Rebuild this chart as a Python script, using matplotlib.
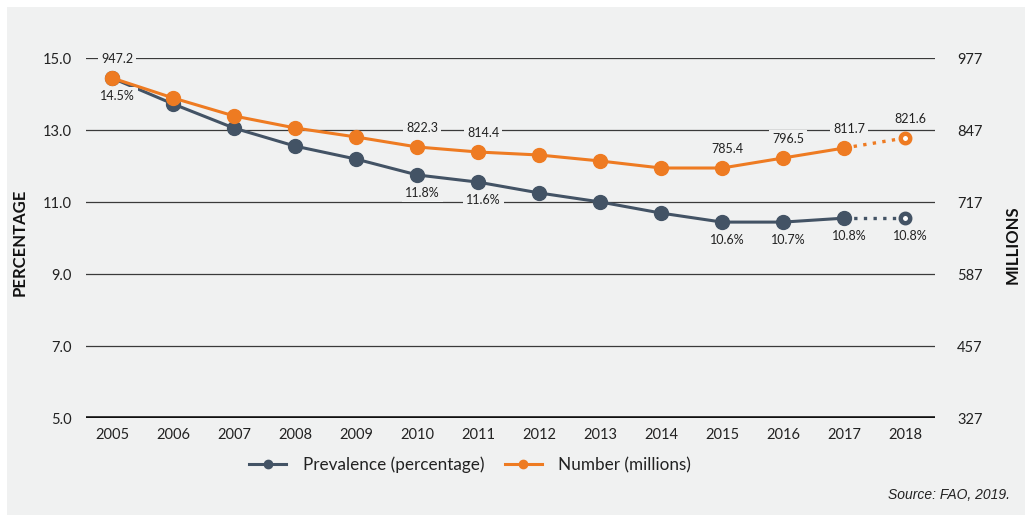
import matplotlib
matplotlib.use('Agg')
import matplotlib.pyplot as plt
from matplotlib.lines import Line2D
from matplotlib.patches import Rectangle
import numpy as np

# Data
years = ['2005', '2006', '2007', '2008', '2009', '2010', '2011',
         '2012', '2013', '2014', '2015', '2016', '2017', '2018']
prevalence = [14.45, 13.73, 13.06, 12.56, 12.20, 11.76, 11.56,
              11.26, 11.01, 10.70, 10.45, 10.45, 10.56, 10.56]
number = [941.4, 905.3, 872.8, 851.2, 834.9, 816.9, 807.8,
          802.4, 791.6, 778.9, 778.9, 797.0, 815.0, 833.1]

# value labels shown on the chart
num_label_years = ['2005', '2010', '2011', '2015', '2016', '2017', '2018']
num_label_text = ['947.2', '822.3', '814.4', '785.4', '796.5', '811.7', '821.6']
prev_label_years = ['2005', '2010', '2011', '2015', '2016', '2017', '2018']
prev_label_text = ['14.5%', '11.8%', '11.6%', '10.6%', '10.7%', '10.8%', '10.8%']

left_ticks = [5, 7, 9, 11, 13, 15]
right_ticks = [327, 457, 587, 717, 847, 977]

BLUE = '#435365'
ORANGE = '#ee7b22'
PANEL = '#f0f1f1'

plt.rcParams['font.family'] = ['Lato', 'DejaVu Sans']

fig = plt.figure(figsize=(10.28, 5.21), dpi=100)
fig.patch.set_facecolor('white')
fig.patches.append(Rectangle((7 / 1028, 1 - 515 / 521), 1018 / 1028, 508 / 521,
                             transform=fig.transFigure, facecolor=PANEL,
                             edgecolor='none', zorder=-10))

ax = fig.add_axes([86 / 1028, 1 - 418.3 / 521, 849 / 1028, 360 / 521])
ax2 = ax.twinx()
for a in (ax, ax2):
    a.set_facecolor('none')
    for s in a.spines.values():
        s.set_visible(False)

x = np.arange(len(years))
idx = {y: i for i, y in enumerate(years)}

# gridlines
for t in left_ticks[1:]:
    ax.axhline(t, color='#3a3a3a', lw=0.9, zorder=0)
ax.axhline(5, color='#111111', lw=2.6, zorder=0)

# prevalence (left axis)
ax.plot(x[:-1], prevalence[:-1], color=BLUE, lw=2.2, marker='o', ms=10, zorder=3)
ax.plot(x[-2:], prevalence[-2:], color=BLUE, lw=2.4, ls=(0, (1, 1.9)), zorder=3)
ax.plot(x[-1:], prevalence[-1:], ls='none', marker='o', ms=6.8, mfc='white',
        mec=BLUE, mew=3.2, zorder=4)

# number (right axis)
ax2.plot(x[:-1], number[:-1], color=ORANGE, lw=2.2, marker='o', ms=10, zorder=3)
ax2.plot(x[-2:], number[-2:], color=ORANGE, lw=2.4, ls=(0, (1, 1.9)), zorder=3)
ax2.plot(x[-1:], number[-1:], ls='none', marker='o', ms=6.8, mfc='white',
         mec=ORANGE, mew=3.2, zorder=4)

box = dict(boxstyle='square,pad=0.25', facecolor=PANEL, edgecolor='none')
for yr, txt in zip(num_label_years, num_label_text):
    i = idx[yr]
    ax2.annotate(txt, (x[i], number[i]), xytext=(3.5, 13.5), textcoords='offset points',
                 ha='center', va='center', fontsize=9, color='#222222', bbox=box, zorder=5)
for yr, txt in zip(prev_label_years, prev_label_text):
    i = idx[yr]
    ax.annotate(txt, (x[i], prevalence[i]), xytext=(4, -13), textcoords='offset points',
                ha='center', va='center', fontsize=9, color='#222222', bbox=box, zorder=5)

ax.set_xlim(-0.43, 13.49)
ax.set_ylim(5, 15)
ax2.set_ylim(327, 977)
ax.set_xticks(x)
ax.set_xticklabels(years)
ax.set_yticks(left_ticks)
ax.set_yticklabels([f'{t:.1f}' for t in left_ticks])
ax2.set_yticks(right_ticks)
ax2.set_yticklabels([str(t) for t in right_ticks])
ax.tick_params(axis='x', length=0, pad=7, labelsize=10.5, labelcolor='#222222')
ax.tick_params(axis='y', length=0, pad=10, labelsize=10.5, labelcolor='#222222')
ax2.tick_params(axis='y', length=0, pad=16, labelsize=10.5, labelcolor='#222222')

fig.text(20 / 1028, 1 - 242 / 521, 'PERCENTAGE', rotation=90, ha='center', va='center',
         fontsize=12, fontweight='bold', color='#111111')
fig.text(1013 / 1028, 1 - 245 / 521, 'MILLIONS', rotation=90, ha='center', va='center',
         fontsize=12, fontweight='bold', color='#111111')

handles = [Line2D([], [], color=BLUE, lw=2.2, marker='o', ms=6),
           Line2D([], [], color=ORANGE, lw=2.2, marker='o', ms=6)]
fig.legend(handles, ['Prevalence (percentage)', 'Number (millions)'], ncol=2,
           loc='center', bbox_to_anchor=(470 / 1028, 1 - 465 / 521), frameon=False,
           fontsize=12.3, handlelength=2.2, handletextpad=0.95, columnspacing=1.2,
           labelcolor='#222222')

fig.text(1010 / 1028, 1 - 495 / 521, 'Source: FAO, 2019.', ha='right', va='center',
         fontsize=10, style='italic', family='Liberation Sans', color='#222222')

fig.savefig('out.png', dpi=100, facecolor=fig.get_facecolor())
